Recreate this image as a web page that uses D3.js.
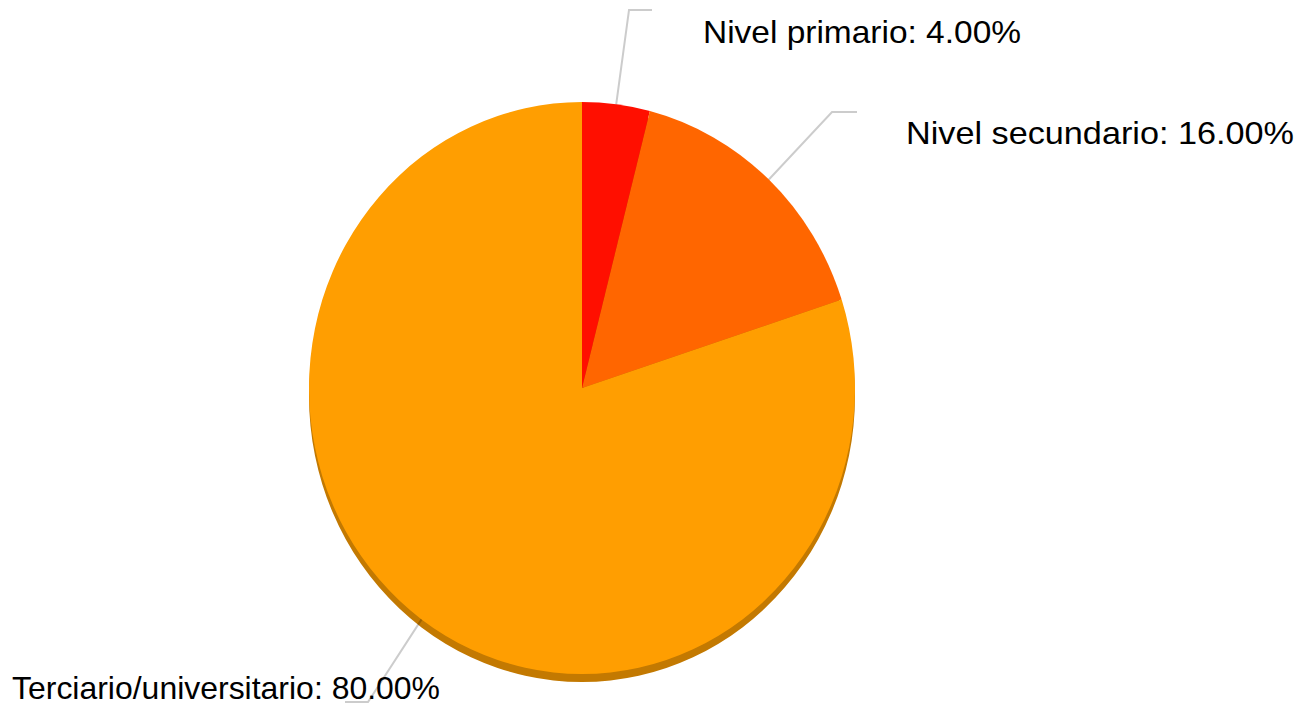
<!DOCTYPE html>
<html>
<head>
<meta charset="utf-8">
<script src="https://cdn.jsdelivr.net/npm/d3@7"></script>
<style>
  html, body { margin: 0; padding: 0; background: #ffffff; }
  svg { display: block; }
</style>
</head>
<body>
<script>
// ---- data ----
const categories = ["Nivel primario", "Nivel secundario", "Terciario/universitario"];
const values = [4, 16, 80];
const colors = ["#FF0F00", "#FF6600", "#FF9E01"];
const labelTexts = ["Nivel primario: 4.00%", "Nivel secundario: 16.00%", "Terciario/universitario: 80.00%"];

// ---- layout ----
const W = 1314, H = 706;
const cx = 582, cy = 388, rx = 273, ry = 286, depth = 8;

const svg = d3.select("body").append("svg").attr("width", W).attr("height", H);

const data = categories.map((c, i) => ({ name: c, value: values[i], color: colors[i], label: labelTexts[i] }));
const pie = d3.pie().value(d => d.value).sort(null);
const arcs = pie(data);
const arc = d3.arc().innerRadius(0).outerRadius(rx);
const sy = ry / rx;

// side (depth)
const sideG = svg.append("g").attr("transform", `translate(${cx},${cy + depth}) scale(1,${sy})`);
sideG.selectAll("path").data(arcs).join("path")
  .attr("d", arc)
  .attr("fill", d => d3.color(d.data.color).darker(0.75).formatHex());

// top face
const topG = svg.append("g").attr("transform", `translate(${cx},${cy}) scale(1,${sy})`);
topG.selectAll("path").data(arcs).join("path")
  .attr("d", arc)
  .attr("fill", d => d.data.color);

// label lines and texts
const labelCfg = [
  { elbow: [629, 10], end: [652, 10], tx: 703, ty: 43, len: 318 },
  { elbow: [832, 112], end: [857, 112], tx: 906, ty: 144, len: 388 },
  { elbow: [368, 702], end: [345, 702], tx: 12, ty: 699, len: 428 }
];

const lines = svg.append("g");
arcs.forEach((a, i) => {
  const mid = (a.startAngle + a.endAngle) / 2;
  const px = cx + rx * Math.sin(mid);
  const py = cy - ry * Math.cos(mid);
  const cfg = labelCfg[i];
  lines.append("path")
    .attr("d", d3.line()([[px, py], cfg.elbow, cfg.end]))
    .attr("fill", "none")
    .attr("stroke", "#000")
    .attr("stroke-opacity", 0.2)
    .attr("stroke-width", 2);
});

const texts = svg.append("g");
arcs.forEach((a, i) => {
  const cfg = labelCfg[i];
  texts.append("text")
    .attr("x", cfg.tx)
    .attr("y", cfg.ty)
    .attr("text-anchor", "start")
    .attr("font-family", "Liberation Sans, Arial, sans-serif")
    .attr("font-size", 32)
    .attr("textLength", cfg.len)
    .attr("lengthAdjust", "spacingAndGlyphs")
    .attr("fill", "#000")
    .text(a.data.label);
});
</script>
</body>
</html>
